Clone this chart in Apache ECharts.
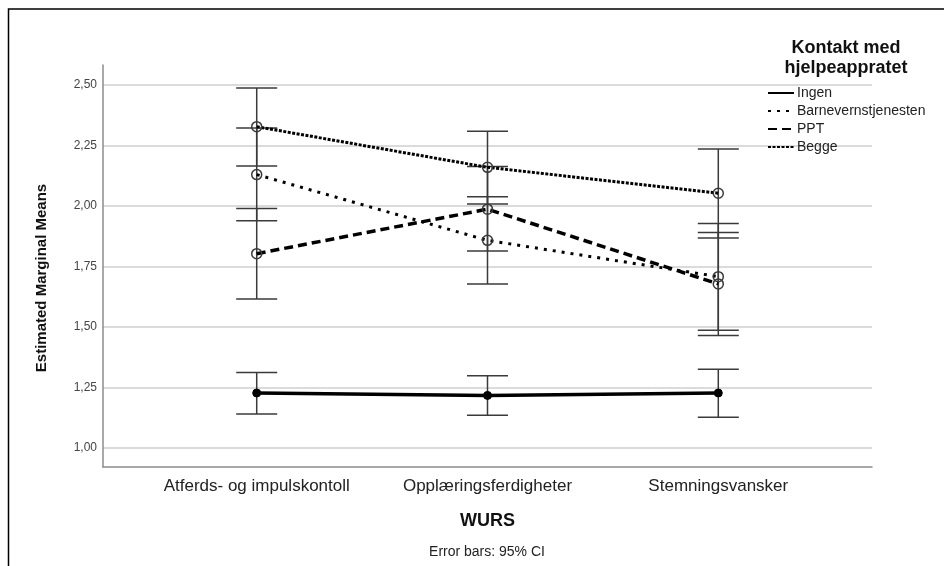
<!DOCTYPE html>
<html>
<head>
<meta charset="utf-8">
<script src="https://cdn.jsdelivr.net/npm/echarts@6/dist/echarts.min.js"></script>
<style>
html,body{margin:0;padding:0;background:#fff;}
#chart{width:944px;height:566px;}
</style>
</head>
<body>
<div id="chart"></div>
<script>
const categories = ['Atferds- og impulskontoll', 'Opplæringsferdigheter', 'Stemningsvansker'];
const yTicks = [1.00, 1.25, 1.50, 1.75, 2.00, 2.25, 2.50];
const seriesNames = ['Ingen', 'Barnevernstjenesten', 'PPT', 'Begge'];

const ingenMean = [1.227, 1.217, 1.227];
const ingenLow  = [1.140, 1.135, 1.127];
const ingenHigh = [1.312, 1.298, 1.325];

const barnMean = [2.130, 1.858, 1.708];
const barnLow  = [1.939, 1.678, 1.486];
const barnHigh = [2.323, 2.038, 1.928];

const pptMean = [1.803, 1.987, 1.678];
const pptLow  = [1.616, 1.814, 1.465];
const pptHigh = [1.990, 2.163, 1.891];

const beggeMean = [2.328, 2.160, 2.053];
const beggeLow  = [2.165, 2.008, 1.868];
const beggeHigh = [2.488, 2.309, 2.236];

const FONT = 'Liberation Sans, Arial, sans-serif';

function pts(arr) { return arr.map((v, i) => [i, v]); }
function errData(low, high) { return low.map((l, i) => [i, l, high[i]]); }

function errSeries(low, high) {
  return {
    type: 'custom',
    silent: true,
    z: 1,
    data: errData(low, high),
    encode: { x: 0, y: [1, 2] },
    renderItem: function (params, api) {
      const x = api.value(0);
      const lo = api.coord([x, api.value(1)]);
      const hi = api.coord([x, api.value(2)]);
      const hw = 20.5;
      const st = { stroke: '#3a3a3a', lineWidth: 1.5 };
      return {
        type: 'group',
        children: [
          { type: 'line', shape: { x1: lo[0], y1: lo[1], x2: hi[0], y2: hi[1] }, style: st },
          { type: 'line', shape: { x1: lo[0] - hw, y1: lo[1], x2: lo[0] + hw, y2: lo[1] }, style: st },
          { type: 'line', shape: { x1: hi[0] - hw, y1: hi[1], x2: hi[0] + hw, y2: hi[1] }, style: st }
        ]
      };
    }
  };
}

function lineSeries(name, data, dash, width, filled) {
  return {
    name: name,
    type: 'line',
    z: 3,
    data: pts(data),
    symbol: 'circle',
    symbolSize: filled ? 8 : 10,
    showSymbol: true,
    lineStyle: { color: '#000', width: width, type: dash },
    itemStyle: filled
      ? { color: '#000', borderColor: '#000', borderWidth: 1 }
      : { color: 'rgba(0,0,0,0)', borderColor: '#3a3a3a', borderWidth: 1.5 },
    emphasis: { disabled: true },
    animation: false
  };
}

const chart = echarts.init(document.getElementById('chart'));
chart.setOption({
  animation: false,
  backgroundColor: '#fff',
  grid: { left: 103, right: 72, top: 65, bottom: 99, containLabel: false },
  xAxis: {
    type: 'value',
    min: -0.666,
    max: 2.666,
    name: 'WURS',
    nameLocation: 'middle',
    nameGap: 45,
    nameTextStyle: { fontFamily: FONT, fontWeight: 'bold', fontSize: 18, color: '#111', verticalAlign: 'top' },
    axisLine: { show: true, onZero: false, lineStyle: { color: '#8c8c8c', width: 1.5 } },
    axisTick: { show: false },
    splitLine: { show: false },
    axisLabel: {
      customValues: [0, 1, 2],
      formatter: function (v) { return categories[Math.round(v)]; },
      fontFamily: FONT, fontSize: 17, color: '#222', margin: 11
    }
  },
  yAxis: {
    type: 'value',
    min: 0.921,
    max: 2.583,
    name: 'Estimated Marginal Means',
    nameLocation: 'middle',
    nameGap: 54,
    nameTextStyle: { fontFamily: FONT, fontWeight: 'bold', fontSize: 15, color: '#111', padding: [0, 0, 0, -24] },
    axisLine: { show: true, onZero: false, lineStyle: { color: '#8c8c8c', width: 1.5 } },
    axisTick: { show: false, customValues: yTicks },
    splitLine: { show: true, lineStyle: { color: '#cfcfcf', width: 1.5 } },
    axisLabel: {
      customValues: yTicks,
      formatter: function (v) { return v.toFixed(2).replace('.', ','); },
      fontFamily: FONT, fontSize: 12, color: '#444', margin: 6
    }
  },
  legend: {
    orient: 'vertical',
    left: 767,
    top: 86,
    itemWidth: 26,
    itemHeight: 12,
    itemGap: 4,
    padding: 0,
    textStyle: { fontFamily: FONT, fontSize: 14, color: '#222', padding: [0, 0, 0, -2] },
    itemStyle: { opacity: 0 },
    data: seriesNames
  },
  graphic: [
    { type: 'rect', shape: { x: 8.5, y: 9, width: 1000, height: 1000 }, style: { fill: 'none', stroke: '#000', lineWidth: 1.5 }, silent: true, z: 0 },
    { type: 'text', x: 846, y: 38, style: { text: 'Kontakt med\nhjelpeappratet', fontFamily: FONT, fontWeight: 'bold', fontSize: 18, lineHeight: 20, fill: '#111', align: 'center', textAlign: 'center' } },
    { type: 'text', x: 487, y: 552, style: { text: 'Error bars: 95% CI', fontFamily: FONT, fontSize: 14, fill: '#222', align: 'center', verticalAlign: 'middle', textAlign: 'center', textVerticalAlign: 'middle' } }
  ],
  series: [
    errSeries(ingenLow, ingenHigh),
    errSeries(barnLow, barnHigh),
    errSeries(pptLow, pptHigh),
    errSeries(beggeLow, beggeHigh),
    lineSeries('Ingen', ingenMean, 'solid', 3.5, true),
    lineSeries('Barnevernstjenesten', barnMean, [3, 6], 3, false),
    lineSeries('PPT', pptMean, [9, 5], 3.5, false),
    lineSeries('Begge', beggeMean, [3, 1.5], 3, false)
  ]
});
</script>
</body>
</html>
